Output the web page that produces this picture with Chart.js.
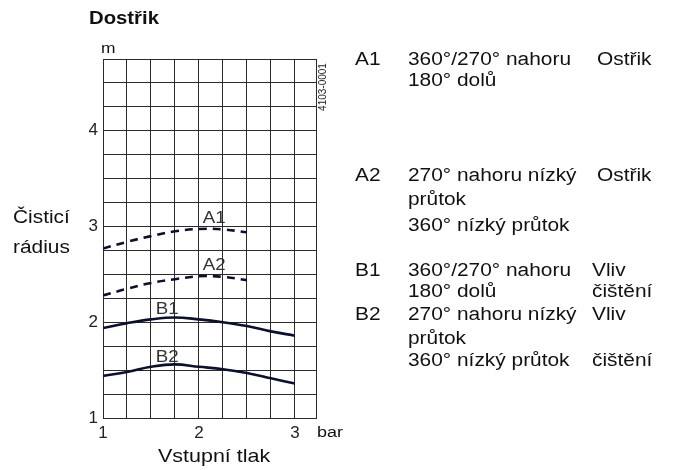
<!DOCTYPE html>
<html>
<head>
<meta charset="utf-8">
<script src="https://cdn.jsdelivr.net/npm/chart.js@4"></script>
<style>
  html, body { margin: 0; padding: 0; background: #fff; }
  #wrap { position: relative; width: 674px; height: 470px; overflow: hidden; }
  #chart { position: absolute; left: 0; top: 0; }
  .t { position: absolute; white-space: nowrap; font-family: "Liberation Sans", Arial, sans-serif; color: #111; transform-origin: 0 0; }
  .code { position: absolute; white-space: nowrap; font: 10px "Liberation Sans", Arial, sans-serif; line-height: 10px; color: #222; transform: translate(-50%, -50%) rotate(-90deg); }
</style>
</head>
<body>
<div id="wrap">
  <canvas id="chart" width="674" height="470"></canvas>
  <div class="code" style="left:322.7px; top:86.5px">4103-0001</div>
</div>
<script>
// Dostřik — čisticí rádius vs. vstupní tlak
const xPressure = [1, 1.25, 1.5, 1.75, 2, 2.25, 2.5, 2.75, 3];
const a1 = [2.77, 2.84, 2.9, 2.95, 2.975, 2.97, 2.94];
const a2 = [2.28, 2.35, 2.41, 2.45, 2.48, 2.475, 2.44];
const b1 = [1.94, 1.99, 2.03, 2.05, 2.03, 2.0, 1.96, 1.905, 1.86];
const b2 = [1.44, 1.48, 1.535, 1.56, 1.535, 1.51, 1.47, 1.415, 1.36];
const seriesNames = ['A1', 'A2', 'B1', 'B2'];

const xGrid = [1, 1.25, 1.5, 1.75, 2, 2.25, 2.5, 2.75, 3, 3.22];
const yGrid = [1, 1.25, 1.5, 1.75, 2, 2.25, 2.5, 2.75, 3, 3.25, 3.5, 3.75, 4, 4.25, 4.5, 4.75];
const xTickLabels = ['1', '2', '3'];
const yTickLabels = ['1', '2', '3', '4'];

const LINE = '#0b1030';
const toPts = arr => arr.map((y, i) => ({ x: xPressure[i], y }));

// text outside the plot: [text, left, baseline, size, bold]
const TEXTS = [
    ['Dostřik', 89, 25, 17.5, true],
    ['m', 101, 53, 15],
    ['Čisticí', 13, 223, 18],
    ['rádius', 13, 253, 18],
    ['Vstupní tlak', 158, 463, 18.5],
    ['bar', 317, 437, 15.5],
    ['A1', 355, 65, 18], ['360°/270° nahoru', 408, 65, 18], ['Ostřik', 597, 65, 18],
    ['180° dolů', 408, 86.7, 18],
    ['A2', 355, 181.7, 18], ['270° nahoru nízký', 408, 181.7, 18], ['Ostřik', 597, 181.7, 18],
    ['průtok', 408, 205, 18],
    ['360° nízký průtok', 408, 231.7, 18],
    ['B1', 355, 276, 18], ['360°/270° nahoru', 408, 276, 18], ['Vliv', 592, 276, 18],
    ['180° dolů', 408, 297.7, 18], ['čištění', 592, 297.7, 18],
    ['B2', 355, 320, 18], ['270° nahoru nízký', 408, 320, 18], ['Vliv', 592, 320, 18],
    ['průtok', 408, 344, 18],
    ['360° nízký průtok', 408, 366.7, 18], ['čištění', 592, 366.7, 18],
];

const wrap = document.getElementById('wrap');
TEXTS.forEach(([text, x, base, size, bold]) => {
    const el = document.createElement('div');
    el.className = 't';
    el.textContent = text;
    el.style.left = x + 'px';
    el.style.top = (base - 0.8465 * size) + 'px';
    el.style.fontSize = size + 'px';
    el.style.lineHeight = size + 'px';
    if (bold) el.style.fontWeight = 'bold';
    el.style.transform = 'scaleX(1.16)';
    wrap.appendChild(el);
});

// curve names written next to each line
const curveLabels = {
    id: 'curveLabels',
    afterDatasetsDraw(chart, args, opts) {
        const { ctx, scales: { x, y } } = chart;
        ctx.save();
        ctx.font = '17px "Liberation Sans", Arial, sans-serif';
        ctx.fillStyle = '#333';
        ctx.textAlign = 'left';
        ctx.textBaseline = 'alphabetic';
        opts.at.forEach((p, i) => {
            const px = x.getPixelForValue(p[0]);
            const py = y.getPixelForValue(p[1]);
            ctx.save();
            ctx.translate(px, py);
            ctx.scale(1.1, 1);
            ctx.fillText(chart.data.datasets[i].label, 0, 0);
            ctx.restore();
        });
        ctx.restore();
    }
};

new Chart(document.getElementById('chart'), {
    type: 'line',
    data: {
        datasets: [
            { label: seriesNames[0], data: toPts(a1), borderDash: [8, 6] },
            { label: seriesNames[1], data: toPts(a2), borderDash: [8, 6] },
            { label: seriesNames[2], data: toPts(b1) },
            { label: seriesNames[3], data: toPts(b2) },
        ].map(d => Object.assign({
            borderColor: LINE, borderWidth: 2.6, tension: 0.4,
            pointRadius: 0, fill: false, borderCapStyle: 'butt'
        }, d))
    },
    options: {
        responsive: false,
        animation: false,
        layout: { padding: { left: 73, right: 358, top: 59, bottom: 32 } },
        plugins: {
            legend: { display: false },
            tooltip: { enabled: false },
            curveLabels: { at: [[2.04, 3.04], [2.04, 2.548], [1.55, 2.087], [1.55, 1.588]] }
        },
        scales: {
            x: {
                type: 'linear', min: 1, max: 3.22,
                afterBuildTicks: s => { s.ticks = xGrid.map(v => ({ value: v })); },
                afterFit: s => { s.height = 20; },
                grid: { color: '#2a2a2a', lineWidth: 1, drawTicks: false },
                border: { color: '#2a2a2a' },
                ticks: {
                    autoSkip: false, maxRotation: 0, padding: 5, color: '#222',
                    font: { family: '"Liberation Sans", Arial, sans-serif', size: 17 },
                    callback: v => xTickLabels.includes(String(v)) ? String(v) : ''
                }
            },
            y: {
                type: 'linear', min: 1, max: 4.75,
                afterBuildTicks: s => { s.ticks = yGrid.map(v => ({ value: v })); },
                afterFit: s => { s.width = 30; },
                grid: { color: '#2a2a2a', lineWidth: 1, drawTicks: false },
                border: { color: '#2a2a2a' },
                ticks: {
                    autoSkip: false, padding: 5, color: '#222',
                    font: { family: '"Liberation Sans", Arial, sans-serif', size: 17 },
                    callback: v => yTickLabels.includes(String(v)) ? String(v) : ''
                }
            }
        }
    },
    plugins: [curveLabels]
});
</script>
</body>
</html>
